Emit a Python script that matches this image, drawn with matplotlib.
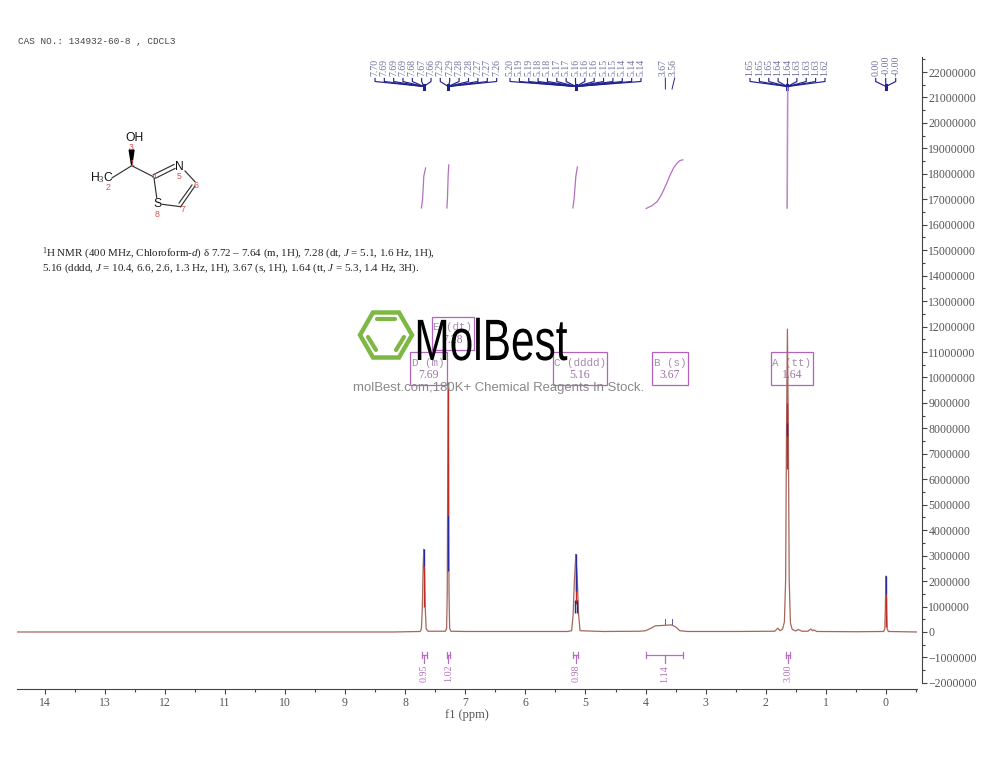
import math
import matplotlib
matplotlib.use("Agg")
import matplotlib.pyplot as plt
import matplotlib.patheffects as pe
from matplotlib.patches import Polygon, Rectangle, RegularPolygon
from matplotlib.transforms import Affine2D

plt.rcParams['font.family'] = ['Liberation Serif', 'DejaVu Serif']
plt.rcParams['mathtext.fontset'] = 'custom'
plt.rcParams['mathtext.rm'] = 'Liberation Serif'
plt.rcParams['mathtext.it'] = 'Liberation Serif:italic'

# --- spectrum trace (intensity in millions) ---
trace_ppm = [14.46, 8.2, 7.75, 7.73, 7.715, 7.70, 7.69, 7.68, 7.665, 7.65, 7.62, 7.45,
             7.33, 7.31, 7.30, 7.285, 7.27, 7.26, 7.24, 7.0, 5.3, 5.23, 5.205, 5.185, 5.17,
             5.16, 5.15, 5.135, 5.115, 5.09, 4.7, 4.1, 4.0, 3.9, 3.84, 3.7, 3.57, 3.5,
             3.43, 3.3, 2.5, 1.85, 1.8, 1.76, 1.72, 1.69, 1.67, 1.655, 1.64, 1.625,
             1.61, 1.59, 1.56, 1.5, 1.46, 1.4, 1.3, 1.25, 1.22, 1.2, 1.15, 0.5, 0.04,
             0.02, 0.01, 0.0, -0.01, -0.02, -0.04, -0.52]
trace_int = [0.0, 0.0, 0.02, 0.12, 0.9, 2.6, 3.25, 2.6, 0.9, 0.12, 0.03, 0.03,
             0.03, 0.15, 1.5, 9.8, 1.5, 0.15, 0.03, 0.02, 0.02, 0.05, 0.7, 2.0, 2.6,
             3.05, 2.6, 2.0, 0.7, 0.05, 0.02, 0.03, 0.05, 0.16, 0.24, 0.26, 0.28, 0.2,
             0.05, 0.02, 0.02, 0.03, 0.15, 0.05, 0.12, 0.4, 2.0, 8.0, 11.9, 8.0,
             2.0, 0.35, 0.1, 0.04, 0.1, 0.03, 0.03, 0.12, 0.05, 0.08, 0.02, 0.01, 0.02,
             0.12, 1.0, 2.2, 1.0, 0.12, 0.02, 0.0]

# dark centres of the peaks: ppm, low, high
blue_ppm = [7.69, 7.285, 5.16, 5.172, 5.148, 1.64, 0.0]
blue_low = [2.6, 2.4, 1.6, 0.75, 0.75, 7.7, 1.5]
blue_high = [3.25, 4.6, 3.05, 1.25, 1.25, 8.2, 2.2]
red_ppm = [7.69, 7.285, 5.16, 1.64, 0.0]
red_low = [1.0, 4.6, 1.1, 6.4, 0.2]
red_high = [2.6, 9.8, 2.5, 9.0, 1.5]

# integral curves (intensity in millions)
int1_ppm, int1_val = [7.73, 7.71, 7.69, 7.66], [16.66, 17.0, 17.9, 18.23]
int2_ppm, int2_val = [7.305, 7.295, 7.285, 7.275], [16.66, 17.1, 17.9, 18.35]
int3_ppm, int3_val = [5.21, 5.19, 5.16, 5.135], [16.66, 17.0, 17.9, 18.27]
int4_ppm = [3.99, 3.90, 3.81, 3.75, 3.70, 3.65, 3.59, 3.53, 3.48, 3.43, 3.38]
int4_val = [16.64, 16.74, 16.9, 17.12, 17.36, 17.62, 17.96, 18.25, 18.41, 18.52, 18.55]
int5_ppm, int5_val = [1.645, 1.635], [16.66, 21.37]

# integral brackets
bracket_left = [7.72, 7.31, 5.20, 3.99, 1.66]
bracket_right = [7.64, 7.26, 5.12, 3.38, 1.60]
bracket_text = ['0.95', '1.02', '0.98', '1.14', '3.00']

# peak labels
peaks_a = ['7.70', '7.69', '7.69', '7.69', '7.68', '7.67', '7.66']
peaks_b = ['7.29', '7.29', '7.28', '7.28', '7.27', '7.27', '7.26']
peaks_c = ['5.20', '5.19', '5.19', '5.18', '5.18', '5.17', '5.17', '5.16',
           '5.16', '5.16', '5.15', '5.15', '5.14', '5.14', '5.14']
peaks_d = ['3.67', '3.56']
peaks_e = ['1.65', '1.65', '1.65', '1.64', '1.64', '1.63', '1.63', '1.63', '1.62']
peaks_f = ['0.00', '-0.00', '-0.00']

# multiplet boxes
box_title = ['D (m)', 'E (dt)', 'C (dddd)', 'B (s)', 'A (tt)']
box_value = ['7.69', '7.28', '5.16', '3.67', '1.64']

ytick_values = list(range(-2000000, 22000001, 1000000))
xtick_values = list(range(0, 15))

NAVY = '#23238f'
LABEL = '#6f6f9c'
PURPLE = '#b46fc0'
TICK = '#444444'
TXT = '#555555'
RED = '#c02a24'
GREEN = '#7cb843'


class Squeeze(pe.AbstractPathEffect):
    # narrows the logo text around a pixel x position
    def __init__(self, x0, sx):
        super().__init__()
        self.x0 = x0
        self.sx = sx

    def draw_path(self, renderer, gc, tpath, affine, rgbFace=None):
        squeezed = affine + Affine2D().translate(-self.x0, 0).scale(self.sx, 1).translate(self.x0, 0)
        renderer.draw_path(gc, tpath, squeezed, rgbFace)


fig = plt.figure(figsize=(10, 7.73), dpi=100)

# overlay in pixel coordinates, under and over the plot
under = fig.add_axes([0, 0, 1, 1], zorder=1)
under.set_xlim(0, 1000)
under.set_ylim(773, 0)
under.axis('off')
over = fig.add_axes([0, 0, 1, 1], zorder=3)
over.set_xlim(0, 1000)
over.set_ylim(773, 0)
over.axis('off')
over.patch.set_alpha(0)

ax = fig.add_axes([0.017, (773 - 688.5) / 773, 0.900, (688.5 - 57) / 773], zorder=2)
ax.patch.set_alpha(0)
ax.set_xlim(14.458, -0.516)
ax.set_ylim(-2.22, 22.59)

ax.plot(trace_ppm, trace_int, color='#a5665c', lw=0.9, zorder=3)
ax.vlines(red_ppm, red_low, red_high, color=RED, lw=1.0, zorder=4)
ax.vlines(blue_ppm, blue_low, blue_high, color='#2a2a9a', lw=1.0, zorder=5)

for xs, ys in [(int1_ppm, int1_val), (int2_ppm, int2_val), (int3_ppm, int3_val),
               (int4_ppm, int4_val)]:
    ax.plot(xs, ys, color=PURPLE, lw=0.9, zorder=2)
ax.plot(int5_ppm, int5_val, color='#c08ac8', lw=1.2, zorder=2)

# axes styling
for side in ['top', 'left']:
    ax.spines[side].set_visible(False)
ax.spines['bottom'].set_color(TICK)
ax.spines['right'].set_color(TICK)
ax.spines['right'].set_position(('outward', 3.6))
ax.spines['right'].set_bounds(-2.0, 22.59)
ax.set_xticks(xtick_values)
ax.set_xticks([x + 0.5 for x in range(-1, 15)][:15], minor=True)
ax.set_xticklabels([str(x) for x in xtick_values], fontsize=8.5, color=TXT)
ax.tick_params(axis='x', which='major', length=3.4, width=0.8, color=TICK, pad=3)
ax.tick_params(axis='x', which='minor', length=2, width=0.8, color=TICK)
ax.yaxis.tick_right()
ax.set_yticks([v / 1e6 for v in ytick_values])
ax.set_yticks([v / 1e6 + 0.5 for v in ytick_values], minor=True)
ax.set_yticklabels([str(v).replace('-', '\u2212') for v in ytick_values], fontsize=8.5, color=TXT)
ax.tick_params(axis='y', which='major', length=3.4, width=0.8, color=TICK, pad=1.2)
ax.tick_params(axis='y', which='minor', length=2, width=0.8, color=TICK)
ax.set_ylim(-2.22, 22.59)
ax.set_xlabel('f1 (ppm)', fontsize=9, color=TXT, labelpad=-0.5)


def ppm_px(ppm):
    return ax.transData.transform((ppm, 0))[0]


def peak_tree(labels, x_first, x_last, apex_ppm):
    apex = ppm_px(apex_ppm)
    n = len(labels)
    for i, lab in enumerate(labels):
        x = x_first + (x_last - x_first) * i / (n - 1)
        under.text(x, 76, lab, rotation=90, ha='center', va='bottom', fontsize=7, color=LABEL)
        under.plot([x, x, apex], [78.5, 81.5, 86.5], color=NAVY, lw=0.85, solid_joinstyle='miter')
    under.plot([apex, apex], [84.5, 88.5], color=NAVY, lw=2.2)


peak_tree(peaks_a, 375, 431, 7.69)
peak_tree(peaks_b, 440.3, 496.7, 7.285)
peak_tree(peaks_c, 510, 641, 5.16)
peak_tree(peaks_e, 750, 825, 1.64)
peak_tree(peaks_f, 875.7, 895.7, 0.0)
for lab, x, ppm in zip(peaks_d, [663.3, 672.7], [3.67, 3.56]):
    under.text(x, 76, lab, rotation=90, ha='center', va='bottom', fontsize=7, color=LABEL)
    px = ppm_px(ppm)
    under.plot([x + 2, px], [78, 89], color=NAVY, lw=0.7)
    under.plot([px, px], [618.5, 624], color='#5a5aa8', lw=0.7)

# integral brackets under the baseline
for left, right, lab in zip(bracket_left, bracket_right, bracket_text):
    x0, x1 = ppm_px(left), ppm_px(right)
    mid = (x0 + x1) / 2
    under.plot([x0, x1], [654.5, 654.5], color=PURPLE, lw=0.9)
    under.plot([x0, x0], [651.5, 657.5], color=PURPLE, lw=0.9)
    under.plot([x1, x1], [651.5, 657.5], color=PURPLE, lw=0.9)
    under.plot([mid, mid], [654.5, 662.5], color=PURPLE, lw=0.9)
    under.text(mid, 665, lab, rotation=90, ha='center', va='top', fontsize=7.2, color=PURPLE)

# multiplet boxes
box_x0 = [410, 431.7, 553, 651.7, 770.7]
box_x1 = [447, 474, 607, 688.3, 813.3]
box_y0 = [352, 317, 352, 352, 352]
for x0, x1, y0, title, val in zip(box_x0, box_x1, box_y0, box_title, box_value):
    under.add_patch(Rectangle((x0, y0), x1 - x0, 33, fill=False, ec='#b264bc', lw=0.9))
    mid = (x0 + x1) / 2
    under.text(mid, y0 + 10.5, title, ha='center', va='center', fontsize=7.8, color='#a98ab0',
               family=['Liberation Mono'])
    under.text(mid, y0 + 23, val, ha='center', va='center', fontsize=8.5, color='#a070a8')

# header and assignment text
under.text(18, 41, 'CAS NO.: 134932-60-8 , CDCL3', fontsize=6.75, color='#444444', va='center',
           family=['Liberation Mono'])
under.text(42, 254, r'$^{1}$H NMR (400 MHz, Chloroform-$\mathit{d}$) δ 7.72 – 7.64 (m, 1H), '
                    r'7.28 (dt, $\mathit{J}$ = 5.1, 1.6 Hz, 1H),',
           fontsize=7.95, color='#222222', va='center')
under.text(42, 268, r'5.16 (dddd, $\mathit{J}$ = 10.4, 6.6, 2.6, 1.3 Hz, 1H), 3.67 (s, 1H), '
                    r'1.64 (tt, $\mathit{J}$ = 5.3, 1.4 Hz, 3H).',
           fontsize=7.95, color='#222222', va='center')

# molecule
bonds = [((131.7, 165.7), (112.3, 177.7)), ((131.7, 165.7), (153.3, 176.7)),
         ((153.3, 174.7), (174, 164.5)), ((155, 178.5), (175, 168.5)),
         ((185, 171), (195, 181.7)), ((195, 186), (180.7, 206.7)), ((192, 185), (179, 203)),
         ((180.7, 206.7), (162.3, 204.3)), ((154, 178), (156.7, 197.7))]
for p, q in bonds:
    under.plot([p[0], q[0]], [p[1], q[1]], color='#333333', lw=0.85)
under.add_patch(Polygon([(131.7, 165.7), (129.2, 150), (134, 150)], color='black'))
sans = ['Liberation Sans']
under.text(135, 137.7, 'OH', fontsize=8.7, family=sans, ha='center', va='center', color='#111111')
under.text(101.7, 178, r'H$_3$C', fontsize=8.7, family=sans, ha='center', va='center', color='#111111')
under.text(179.3, 166.7, 'N', fontsize=8.7, family=sans, ha='center', va='center', color='#111111')
under.text(157.3, 204.3, 'S', fontsize=8.7, family=sans, ha='center', va='center', color='#111111')
atom_nums = ['1', '2', '3', '4', '5', '6', '7', '8']
atom_x = [131.7, 107.7, 131, 154, 178.7, 196, 183.3, 157.3]
atom_y = [164, 188, 147, 176.7, 176.7, 186, 210, 214.3]
for n, x, y in zip(atom_nums, atom_x, atom_y):
    under.text(x, y, n, fontsize=6.3, family=sans, ha='center', va='center', color='#d9534f')

# logo and watermark
over.add_patch(RegularPolygon((386, 335), 6, radius=26, orientation=math.pi / 6,
                              fill=False, ec=GREEN, lw=3.2))
over.plot([377, 395], [318.5, 318.5], color=GREEN, lw=3, solid_capstyle='round')
over.plot([368, 376], [337, 350], color=GREEN, lw=3, solid_capstyle='round')
over.plot([404, 396], [337, 350], color=GREEN, lw=3, solid_capstyle='round')
logo = over.text(491, 360, 'MolBest', fontsize=42, ha='center', va='baseline', color='black',
                 family=sans)
logo.set_path_effects([Squeeze(491, 0.727)])
over.text(499, 387.5, 'molBest.com,180K+ Chemical Reagents In Stock.', fontsize=9.45, ha='center',
          va='center', color='#888888', family=sans)

plt.savefig('out.png', dpi=100)
